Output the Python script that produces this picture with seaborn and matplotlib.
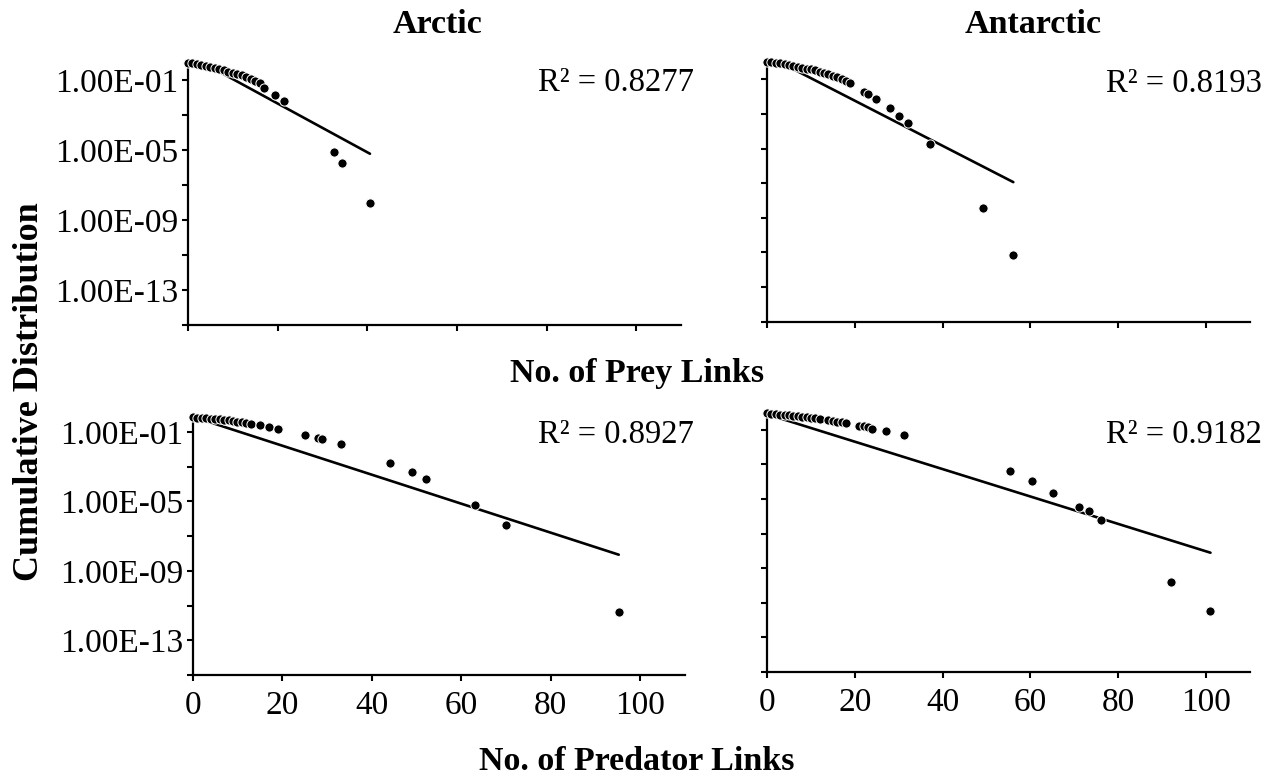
import matplotlib
matplotlib.use("Agg")
import matplotlib.pyplot as plt
import seaborn as sns
import pandas as pd

# ---------------- data ----------------
arctic_prey_k = [0, 1, 2, 3, 4, 5, 6, 7, 8, 9, 10, 11, 12, 13, 14, 15, 16, 17,
                 19.4, 21.4, 32.6, 34.4, 40.5]
arctic_prey_cd = [1.0, 0.912, 0.832, 0.741, 0.631, 0.562, 0.501, 0.427, 0.363, 0.309,
                  0.263, 0.224, 0.186, 0.151, 0.120, 0.0912, 0.0661, 0.0355,
                  0.0138, 0.00631, 7.59e-6, 1.78e-6, 9.33e-9]
arctic_prey_fit_k = [0, 40.6]
arctic_prey_fit_cd = [2.82, 6.17e-6]

antarctic_prey_k = [0, 1, 2, 3, 4, 5, 6, 7, 8, 9, 10, 11, 12, 13, 14, 15, 16, 17, 18, 19,
                    22.0, 23.0, 24.9, 28.1, 30.1, 32.1, 37.1, 49.1, 56.1]
antarctic_prey_cd = [1.0, 0.955, 0.912, 0.851, 0.794, 0.708, 0.575, 0.525, 0.468, 0.417,
                     0.372, 0.324, 0.282, 0.240, 0.200, 0.162, 0.132, 0.105, 0.0794, 0.0575,
                     0.0191, 0.0141, 0.00692, 0.00209, 7.76e-4, 3.02e-4, 1.95e-5, 3.80e-9, 7.24e-12]
antarctic_prey_fit_k = [0, 56.1]
antarctic_prey_fit_cd = [2.34, 1.15e-7]

arctic_pred_k = [0, 1, 2, 3, 4, 5, 6, 7, 8, 9, 10, 11, 12, 13, 15, 17, 19,
                 25.2, 28.0, 29.0, 33.2, 44.0, 49.1, 52.1, 63.0, 70.1, 95.2]
arctic_pred_cd = [0.700, 0.661, 0.638, 0.617, 0.582, 0.562, 0.537, 0.513, 0.490, 0.447,
                  0.389, 0.363, 0.331, 0.302, 0.245, 0.186, 0.148,
                  0.0708, 0.0437, 0.0380, 0.0195, 0.00158, 4.79e-4, 2.0e-4, 6.17e-6, 4.37e-7, 4.37e-12]
arctic_pred_fit_k = [0, 95.2]
arctic_pred_fit_cd = [0.76, 8.5e-9]

antarctic_pred_k = [0, 1, 2, 3, 4, 5, 6, 7, 8, 9, 10, 11, 12, 14, 15, 16, 17, 18,
                    21, 22, 23, 24, 27.2, 31.3, 55.3, 60.4, 65.1, 71.1, 73.3, 76.1, 92, 101]
antarctic_pred_cd = [0.891, 0.851, 0.813, 0.776, 0.741, 0.708, 0.676, 0.631, 0.589, 0.550,
                     0.513, 0.468, 0.427, 0.355, 0.324, 0.295, 0.269, 0.245,
                     0.178, 0.158, 0.138, 0.120, 0.0871, 0.0513, 3.98e-4, 1.05e-4, 2.24e-5,
                     3.39e-6, 2.0e-6, 6.03e-7, 1.58e-10, 3.16e-12]
antarctic_pred_fit_k = [0, 101]
antarctic_pred_fit_cd = [0.80, 7.9e-9]

r2_labels = ["R² = 0.8277", "R² = 0.8193", "R² = 0.8927", "R² = 0.9182"]
panel_titles = ["Arctic", "Antarctic"]
y_tick_values = [1e-1, 1e-3, 1e-5, 1e-7, 1e-9, 1e-11, 1e-13, 1e-15]
y_tick_labels = ["1.00E-01", "", "1.00E-05", "", "1.00E-09", "", "1.00E-13", ""]
x_tick_values = [0, 20, 40, 60, 80, 100]

# ---------------- style ----------------
sns.set_theme(style="white")
plt.rcParams["font.family"] = ["Liberation Serif", "DejaVu Serif"]
plt.rcParams["text.color"] = "black"

W, H = 1274, 777
fig = plt.figure(figsize=(W / 100, H / 100), dpi=100)
fig.patch.set_facecolor("white")

def px_axes(x0, y_top, x1, y_bot):
    return fig.add_axes([x0 / W, 1 - y_bot / H, (x1 - x0) / W, (y_bot - y_top) / H])

FS_TICK = 24
FS_R2 = 23.5
FS_LAB = 24.5
panels = [
    (px_axes(188, 62.6, 681, 325), arctic_prey_k, arctic_prey_cd, arctic_prey_fit_k, arctic_prey_fit_cd, True, False),
    (px_axes(767, 62.0, 1250, 321.7), antarctic_prey_k, antarctic_prey_cd, antarctic_prey_fit_k, antarctic_prey_fit_cd, False, False),
    (px_axes(192.7, 414.6, 685, 675), arctic_pred_k, arctic_pred_cd, arctic_pred_fit_k, arctic_pred_fit_cd, True, True),
    (px_axes(767, 412.6, 1250, 672), antarctic_pred_k, antarctic_pred_cd, antarctic_pred_fit_k, antarctic_pred_fit_cd, False, True),
]

for i, (ax, k, cd, fk, fcd, ylab, xlab) in enumerate(panels):
    pts = pd.DataFrame({"k": k, "cd": cd})
    fit = pd.DataFrame({"k": fk, "cd": fcd})
    ax.set_yscale("log")
    sns.lineplot(data=fit, x="k", y="cd", ax=ax, color="black", linewidth=1.9, zorder=2)
    sns.scatterplot(data=pts, x="k", y="cd", ax=ax, color="black", s=44,
                    edgecolor="white", linewidth=0.7, zorder=3, clip_on=False)
    ax.set_xlim(0, 110)
    ax.set_ylim(1e-15, 1e0)
    ax.set_xlabel("")
    ax.set_ylabel("")
    ax.minorticks_off()
    ax.set_yticks(y_tick_values)
    ax.set_yticks([], minor=True)
    ax.set_xticks(x_tick_values)
    if ylab:
        ax.set_yticklabels(y_tick_labels)
    else:
        ax.set_yticklabels([])
    if xlab:
        ax.set_xticklabels([str(v) for v in x_tick_values])
    else:
        ax.set_xticklabels([])
    for side in ["top", "right"]:
        ax.spines[side].set_visible(False)
    for side in ["left", "bottom"]:
        ax.spines[side].set_color("black")
        ax.spines[side].set_linewidth(1.6)
    ax.tick_params(axis="both", which="major", direction="out", length=4, width=1.5,
                   color="black", labelsize=FS_TICK, labelcolor="black", left=True, bottom=True)
    ax.tick_params(axis="y", pad=3)
    ax.tick_params(axis="x", pad=7)
    ax.set_facecolor("white")
    ax.grid(False)

# R² annotations (right-aligned, baseline)
r2_pos = [(694, 91), (1262, 92), (694, 443), (1262, 443)]
for (x, y), lab in zip(r2_pos, r2_labels):
    fig.text(x / W, 1 - y / H, lab, ha="right", va="baseline", fontsize=FS_R2, color="black")

# panel titles
fig.text(393 / W, 1 - 33 / H, panel_titles[0], ha="left", va="baseline", fontsize=FS_LAB,
         fontweight="bold", color="black")
fig.text(965 / W, 1 - 33 / H, panel_titles[1], ha="left", va="baseline", fontsize=FS_LAB,
         fontweight="bold", color="black")

# axis labels
fig.text(637 / W, 1 - 382 / H, "No. of Prey Links", ha="center", va="baseline", fontsize=FS_LAB,
         fontweight="bold", color="black")
fig.text(637 / W, 1 - 770 / H, "No. of Predator Links", ha="center", va="baseline", fontsize=FS_LAB,
         fontweight="bold", color="black")
fig.text(30 / W, 1 - 392 / H, "Cumulative Distribution", ha="center", va="center", rotation=90,
         fontsize=26, fontweight="bold", color="black")

fig.savefig("out.png", dpi=100, facecolor="white")
